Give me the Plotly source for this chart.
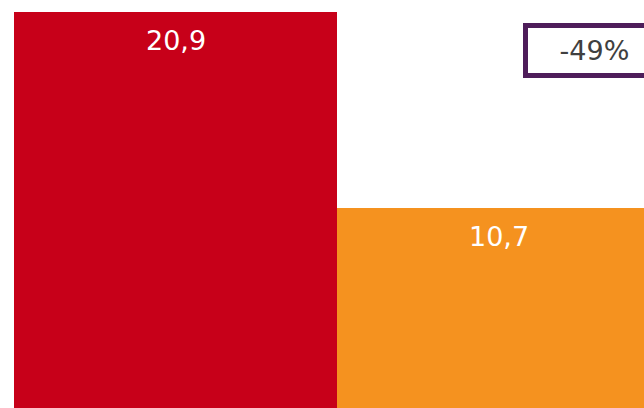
import plotly.graph_objects as go

categories = ['A', 'B']
values = [20.9, 10.7]
labels = ['20,9', '10,7']
change_label = '-49%'

barColors = ['#C70019', '#F5921F']
fontFamily = 'DejaVu Sans'

fig = go.Figure(go.Bar(
    x=categories, y=values,
    marker=dict(color=barColors, line=dict(width=0)),
    hoverinfo='skip'))

# value labels near the top of each bar
for cat, val, lab in zip(categories, values, labels):
    fig.add_annotation(
        x=cat, y=val, text=lab, showarrow=False,
        yanchor='top', yshift=-11,
        font=dict(family=fontFamily, size=27, color='white'))

# change box in the upper right (runs off the right edge)
fig.add_annotation(
    xref='paper', yref='paper', x=0.808, y=0.9436,
    xanchor='left', yanchor='top',
    text=change_label, showarrow=False,
    width=133, height=45, borderpad=0,
    bordercolor='#4E1D5A', borderwidth=5, bgcolor='white',
    font=dict(family=fontFamily, size=27, color='#404040'))

fig.update_layout(
    width=644, height=408,
    margin=dict(l=14, r=0, t=0, b=0),
    paper_bgcolor='white', plot_bgcolor='white',
    bargap=0, showlegend=False,
    xaxis=dict(range=[-0.5, 1.45], visible=False),
    yaxis=dict(range=[0.29, 21.53], visible=False))

# drop the default page margin so the figure fills the window
fig.write_html(
    "out.html",
    config=dict(displayModeBar=False),
    post_script="document.body.style.margin='0';document.body.style.overflow='hidden';")
